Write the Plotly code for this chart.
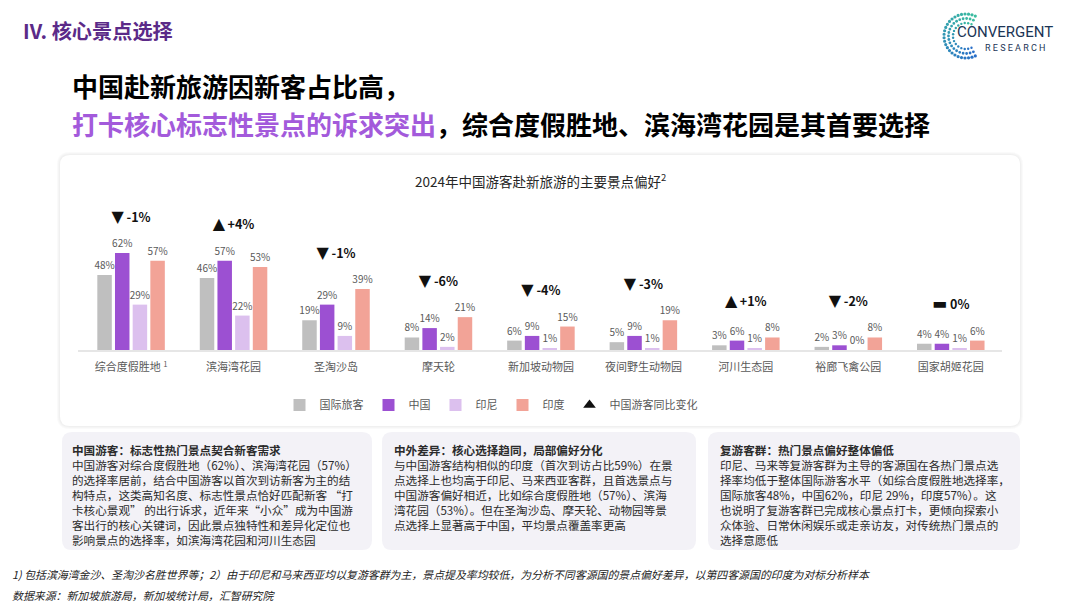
import math
import plotly.graph_objects as go

W, H = 1080, 604

categories = ["综合度假胜地 <sup>1</sup>", "滨海湾花园", "圣淘沙岛", "摩天轮", "新加坡动物园",
              "夜间野生动物园", "河川生态园", "裕廊飞禽公园", "国家胡姬花园"]
intl_vals = [48, 46, 19, 8, 6, 5, 3, 2, 4]
china_vals = [62, 57, 29, 14, 9, 9, 6, 3, 4]
indo_vals = [29, 22, 9, 2, 1, 1, 1, 0, 1]
india_vals = [57, 53, 39, 21, 15, 19, 8, 8, 6]
china_yoy = [-1, 4, -1, -6, -4, -3, 1, -2, 0]

series_names = ["国际旅客", "中国", "印尼", "印度"]
series_colors = ["#BFBFBF", "#9C50D2", "#DCC0EE", "#F2A397"]

FONT = "Noto Sans CJK SC"


def X(px):
    return px / W


def Y(py):
    return 1 - py / H


def rrect(x0, y0, x1, y1, r):
    rx, ry = r / W, r / H
    a, b, c, d = X(x0), Y(y1), X(x1), Y(y0)
    return (f"M{a+rx},{d} L{c-rx},{d} Q{c},{d} {c},{d-ry} L{c},{b+ry} Q{c},{b} {c-rx},{b} "
            f"L{a+rx},{b} Q{a},{b} {a},{b+ry} L{a},{d-ry} Q{a},{d} {a+rx},{d} Z")


fig = go.Figure()

all_vals = [intl_vals, china_vals, indo_vals, india_vals]
for name, vals, col in zip(series_names, all_vals, series_colors):
    fig.add_trace(go.Bar(
        x=categories, y=vals, name=name, marker=dict(color=col, line=dict(width=0)),
        text=[f"{v}%" for v in vals], textposition="outside", constraintext="none",
        textfont=dict(size=10, color="#595959", family=FONT), cliponaxis=False,
    ))

GLYPH = "<span style='font-family:DejaVu Sans;font-size:16px'>{}</span>"
yoy_text = []
for v in china_yoy:
    if v > 0:
        yoy_text.append(GLYPH.format("▲") + f"\u2009+{v}%")
    elif v < 0:
        yoy_text.append(GLYPH.format("▼") + f" {v}%")
    else:
        yoy_text.append(GLYPH.format("▬") + " 0%")
yoy_y = [max(a, b, c, d) + 22 for a, b, c, d in zip(*all_vals)]
fig.add_trace(go.Scatter(
    x=categories, y=yoy_y, mode="text", text=[f"<b>{t}</b>" for t in yoy_text],
    textfont=dict(size=12.5, color="#111111", family=FONT), showlegend=False, cliponaxis=False,
    hoverinfo="skip",
))
fig.add_trace(go.Scatter(
    x=[categories[0]], y=[None], mode="markers", name="中国游客同比变化",
    marker=dict(symbol="triangle-up", size=11, color="#111111"),
))

shapes = []
for i, op in enumerate([0.035, 0.035, 0.04]):
    g = 3 - i
    shapes.append(dict(type="path", xref="paper", yref="paper", layer="below",
                       path=rrect(60 - g, 155 - g, 1020 + g, 426 + g, 10 + g),
                       fillcolor=f"rgba(120,120,120,{op})", line=dict(width=0)))
shapes.append(dict(type="path", xref="paper", yref="paper", layer="below",
                   path=rrect(60, 155, 1020, 426, 10), fillcolor="#FFFFFF", line=dict(width=0)))
for x0, x1 in [(62, 372), (382, 696), (708, 1020)]:
    shapes.append(dict(type="path", xref="paper", yref="paper", layer="below",
                       path=rrect(x0, 432, x1, 550, 10), fillcolor="#F3F2F7", line=dict(width=0)))

# logo dots
cx, cy = 966, 36
rings = [(22, 26, 1.6), (17.5, 21, 1.4), (13, 16, 1.2)]
for r, n, s in rings:
    for k in range(n):
        ang = math.radians(65 + 230 * k / (n - 1))
        px = cx + r * math.cos(ang)
        py = cy - r * math.sin(ang)
        t = k / (n - 1)
        rcol = int(60 + (40 - 60) * t)
        gcol = int(190 + (110 - 190) * t)
        bcol = int(160 + (200 - 160) * t)
        shapes.append(dict(type="circle", xref="paper", yref="paper",
                           x0=X(px - s), x1=X(px + s), y0=Y(py + s), y1=Y(py - s),
                           fillcolor=f"rgb({rcol},{gcol},{bcol})", line=dict(width=0)))


def A(x, y, text, size, color, xanchor="left", family=FONT, yanchor="middle"):
    return dict(x=X(x), y=Y(y), xref="paper", yref="paper", xanchor=xanchor, yanchor=yanchor,
                text=text, showarrow=False, align="left", font=dict(size=size, color=color, family=family))


ann = []
ann.append(A(21, 30, "<b>IV. 核心景点选择</b>", 20.2, "#5B2A88"))
ann.append(A(955, 32, "CONVERGENT", 15, "#1B3556", family="Roboto"))
ann.append(A(983, 48, "R E S E A R C H", 9, "#1B3556", family="Roboto"))
ann.append(A(70, 86, "<b>中国赴新旅游因新客占比高，</b>", 26, "#000000"))
ann.append(A(70, 124, "<b><span style='color:#A35ADB'>打卡核心标志性景点的诉求突出</span>，综合度假胜地、滨海湾花园是其首要选择</b>",
             26, "#000000"))
ann.append(A(540, 181, "2024年中国游客赴新旅游的主要景点偏好<sup>2</sup>", 13.5, "#262626", xanchor="center"))

box_texts = [
    (70, ["<b>中国游客：标志性热门景点契合新客需求</b>",
          "中国游客对综合度假胜地（62%）、滨海湾花园（57%）",
          "的选择率居前，结合中国游客以首次到访新客为主的结",
          "构特点，这类高知名度、标志性景点恰好匹配新客 “打",
          "卡核心景观” 的出行诉求，近年来“小众”成为中国游",
          "客出行的核心关键词，因此景点独特性和差异化定位也",
          "影响景点的选择率，如滨海湾花园和河川生态园"]),
    (392, ["<b>中外差异：核心选择趋同，局部偏好分化</b>",
           "与中国游客结构相似的印度（首次到访占比59%）在景",
           "点选择上也均高于印尼、马来西亚客群，且首选景点与",
           "中国游客偏好相近，比如综合度假胜地（57%）、滨海",
           "湾花园（53%）。但在圣淘沙岛、摩天轮、动物园等景",
           "点选择上显著高于中国，平均景点覆盖率更高"]),
    (718, ["<b>复游客群：热门景点偏好整体偏低</b>",
           "印尼、马来等复游客群为主导的客源国在各热门景点选",
           "择率均低于整体国际游客水平（如综合度假胜地选择率，",
           "国际旅客48%，中国62%，印尼 29%，印度57%）。这",
           "也说明了复游客群已完成核心景点打卡，更倾向探索小",
           "众体验、日常休闲娱乐或走亲访友，对传统热门景点的",
           "选择意愿低"]),
]
for x0, lines in box_texts:
    ann.append(A(x0, 440, "<br>".join(lines), 11.6, "#2B2B2B", yanchor="top"))

ann.append(A(10, 574, "<i>1) 包括滨海湾金沙、圣淘沙名胜世界等；2）由于印尼和马来西亚均以复游客群为主，景点提及率均较低，为分析不同客源国的景点偏好差异，以第四客源国的印度为对标分析样本</i>",
             10.9, "#222222"))
ann.append(A(10, 595, "<i>数据来源：新加坡旅游局，新加坡统计局，汇智研究院</i>", 10.9, "#222222"))

fig.update_layout(
    width=W, height=H, margin=dict(l=0, r=0, t=0, b=0),
    paper_bgcolor="#FFFFFF", plot_bgcolor="rgba(0,0,0,0)",
    font=dict(family=FONT, color="#595959"),
    barmode="group", bargap=0.31, bargroupgap=0.18,
    showlegend=True,
    legend=dict(orientation="h", x=X(491), xanchor="center", y=Y(405), yanchor="middle",
                font=dict(size=11, color="#595959", family=FONT), itemwidth=30,
                bgcolor="rgba(0,0,0,0)", traceorder="normal"),
    xaxis=dict(domain=[X(78), X(1002)], showline=True, linecolor="#E6E6E6", linewidth=2,
               ticks="", tickfont=dict(size=11, color="#595959"), showgrid=False,
               ticklabelstandoff=6, fixedrange=True),
    yaxis=dict(domain=[Y(350), Y(190)], range=[0, 160 / 1.565], visible=False,
               showgrid=False, zeroline=False, fixedrange=True),
    shapes=shapes, annotations=ann,
)

fig.write_html("out.html", config={"displayModeBar": False},
               post_script="document.body.style.margin='0';document.body.style.padding='0';document.body.style.overflow='hidden';")
